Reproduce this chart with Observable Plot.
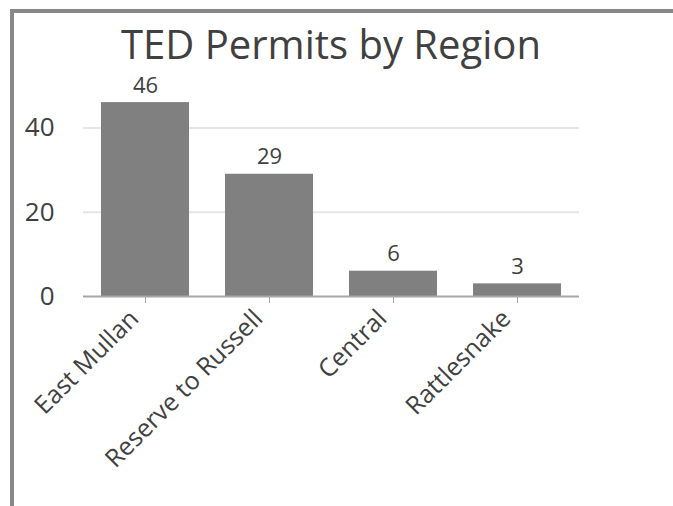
<!DOCTYPE html>
<html>
<head>
<meta charset="utf-8">
<script src="https://cdn.jsdelivr.net/npm/d3@7"></script>
<script src="https://cdn.jsdelivr.net/npm/@observablehq/plot@0.6"></script>
<style>
  html, body { margin: 0; padding: 0; background: #fff; }
  body { width: 673px; height: 506px; position: relative; overflow: hidden; font-family: "Open Sans", sans-serif; }
  #frame { position: absolute; left: 10px; top: 9px; width: 659px; height: 520px; border: 4px solid #888; border-bottom: none; box-sizing: content-box; }
  #title { position: absolute; left: 0; width: 662px; top: 17px; text-align: center; font-size: 40px; line-height: 54px; color: #404040; white-space: nowrap; }
  #chart { position: absolute; left: 0; top: 0; }
</style>
</head>
<body>
<div id="frame"></div>
<div id="chart"></div>
<div id="title">TED Permits by Region</div>
<script>
const regions = ["East Mullan", "Reserve to Russell", "Central", "Rattlesnake"];
const permits = [46, 29, 6, 3];
const yTicks = [0, 20, 40];

const data = regions.map((r, i) => ({region: r, permits: permits[i]}));

const chart = Plot.plot({
  width: 673,
  height: 506,
  marginLeft: 83,
  marginRight: 94,
  marginTop: 85.25,
  marginBottom: 210,
  style: {fontFamily: "Open Sans, sans-serif", color: "#404040", background: "transparent", overflow: "visible"},
  x: {domain: regions, paddingInner: 0.29, paddingOuter: 0.145, label: null},
  y: {domain: [0, 50], label: null},
  marks: [
    Plot.gridY(yTicks.filter(d => d > 0), {stroke: "#e6e6e6", strokeOpacity: 1, strokeWidth: 2}),
    Plot.barY(data, {x: "region", y: "permits", fill: "#808080"}),
    Plot.ruleY([0], {stroke: "#a6a6a6", strokeWidth: 2}),
    Plot.axisY({ticks: yTicks, tickSize: 0, tickPadding: 29, fontSize: 26, fill: "#404040", label: null}),
    Plot.axisX({tickSize: 7, text: null, stroke: "#a6a6a6", label: null}),
    Plot.axisX({tickSize: 0, tickRotate: -45, fontSize: 25, fill: "#404040", tickPadding: 18, dx: -11, label: null}),
    Plot.text(data, {x: "region", y: "permits", text: d => String(d.permits), lineAnchor: "bottom", dy: -10, fontSize: 22, fill: "#404040"})
  ]
});
document.getElementById("chart").appendChild(chart);
</script>
</body>
</html>
